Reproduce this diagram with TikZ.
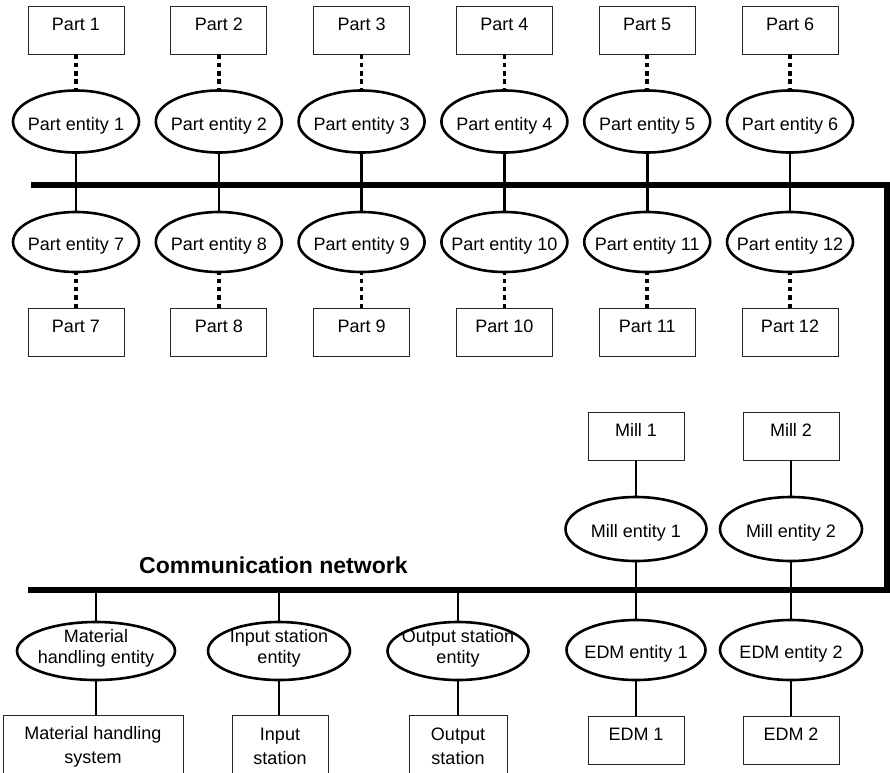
\documentclass[tikz,border=0pt]{standalone}
\usepackage{fontspec}
\setmainfont{Liberation Sans}
\usetikzlibrary{shapes.geometric}

% zero-width wrapper so an ellipse keeps exactly its minimum size
\newcommand\zw[1]{\makebox[0pt]{#1}}
\newcommand\twolines[2]{\zw{\begin{tabular}{@{}c@{}}#1\\#2\end{tabular}}}

\begin{document}
\begin{tikzpicture}[x=1pt,y=-1pt,
  lbl/.style={font=\fontsize{18}{21}\selectfont},
  partbox/.style={draw=black!85, line width=0.9pt, minimum width=96pt,
    text height=24pt, text depth=24pt, inner ysep=0pt, inner xsep=2pt, lbl},
  tallbox/.style={draw=black!85, line width=0.9pt, minimum height=62pt,
    anchor=north, align=center, inner sep=0pt,
    font=\fontsize{18}{24}\selectfont},
  entity/.style={ellipse, draw, line width=2.6pt, inner sep=0pt,
    text height=17pt, text depth=0pt, lbl},
  entitytwo/.style={ellipse, draw, line width=2.6pt, inner sep=0pt,
    text height=3.6pt, text depth=0pt, lbl},
  link/.style={line width=2.6pt},
  dotlink/.style={line width=3.6pt, dash pattern=on 4.5pt off 3.8pt},
  bus/.style={line width=6pt, line join=miter}
]
\useasboundingbox (0,0) rectangle (890,772);
\clip (0,0) rectangle (890,772);

% communication network bus
\coordinate (busTL) at (31,185);
\coordinate (busTR) at (887,185);
\coordinate (busBR) at (887,590);
\coordinate (busBL) at (28,590);
\draw[bus] (busTL) -- (busTR) -- (busBR) -- (busBL);

\node[font=\fontsize{23}{27}\selectfont\bfseries, anchor=base west, inner sep=0pt]
  (title) at (139,573) {Communication network};

% parts and part entities
\foreach \i in {1,...,6} {
  \pgfmathsetmacro\cx{76+142.8*(\i-1)}
  \pgfmathtruncatemacro\j{\i+6}
  \node[partbox] (p\i) at (\cx,30) {Part \i};
  \node[entity, minimum width=126pt, minimum height=62pt] (pe\i) at (\cx,121.5) {\zw{Part entity \i}};
  \node[entity, minimum width=126pt, minimum height=60pt] (pe\j) at (\cx,242) {\zw{Part entity \j}};
  \node[partbox] (p\j) at (\cx,332.5) {Part \j};
  \draw[dotlink] (p\i) -- (pe\i);
  \draw[link] (pe\i) -- (pe\j);
  \draw[dotlink] (p\j) -- (pe\j);
}

% mills and EDMs
\node[partbox] (m1) at (636,436) {Mill 1};
\node[partbox] (m2) at (791,436) {Mill 2};
\node[entity, minimum width=141pt, minimum height=64pt] (me1) at (636,529) {\zw{Mill entity 1}};
\node[entity, minimum width=142pt, minimum height=64pt] (me2) at (791,529) {\zw{Mill entity 2}};
\node[entity, minimum width=139pt, minimum height=60pt] (ee1) at (636,650) {\zw{EDM entity 1}};
\node[entity, minimum width=142pt, minimum height=60pt] (ee2) at (791,650) {\zw{EDM entity 2}};
\node[partbox] (e1) at (636,740) {EDM 1};
\node[partbox] (e2) at (791,740) {EDM 2};
\foreach \k in {1,2} {
  \draw[link] (m\k) -- (me\k);
  \draw[link] (me\k) -- (ee\k);
  \draw[link] (ee\k) -- (e\k);
}

% material handling, input and output stations
\node[entitytwo, minimum width=158pt, minimum height=58pt] (mhe) at (96,651)
  {\twolines{Material}{handling entity}};
\node[entitytwo, minimum width=142pt, minimum height=58pt] (ise) at (279,651)
  {\twolines{Input station}{entity}};
\node[entitytwo, minimum width=141pt, minimum height=58pt] (ose) at (458,651)
  {\twolines{Output station}{entity}};

\node[tallbox, minimum width=180pt] (mhs) at (93,715) {Material handling\\system};
\node[tallbox, minimum width=96pt] (is) at (280,715) {Input\\station};
\node[tallbox, minimum width=98pt] (os) at (458,715) {Output\\station};

\foreach \e/\b in {mhe/mhs, ise/is, ose/os} {
  \draw[link] (\e.north) -- (\e.north |- busBL);
  \draw[link] (\e.south) -- (\e.south |- \b.north);
}
\end{tikzpicture}
\end{document}
